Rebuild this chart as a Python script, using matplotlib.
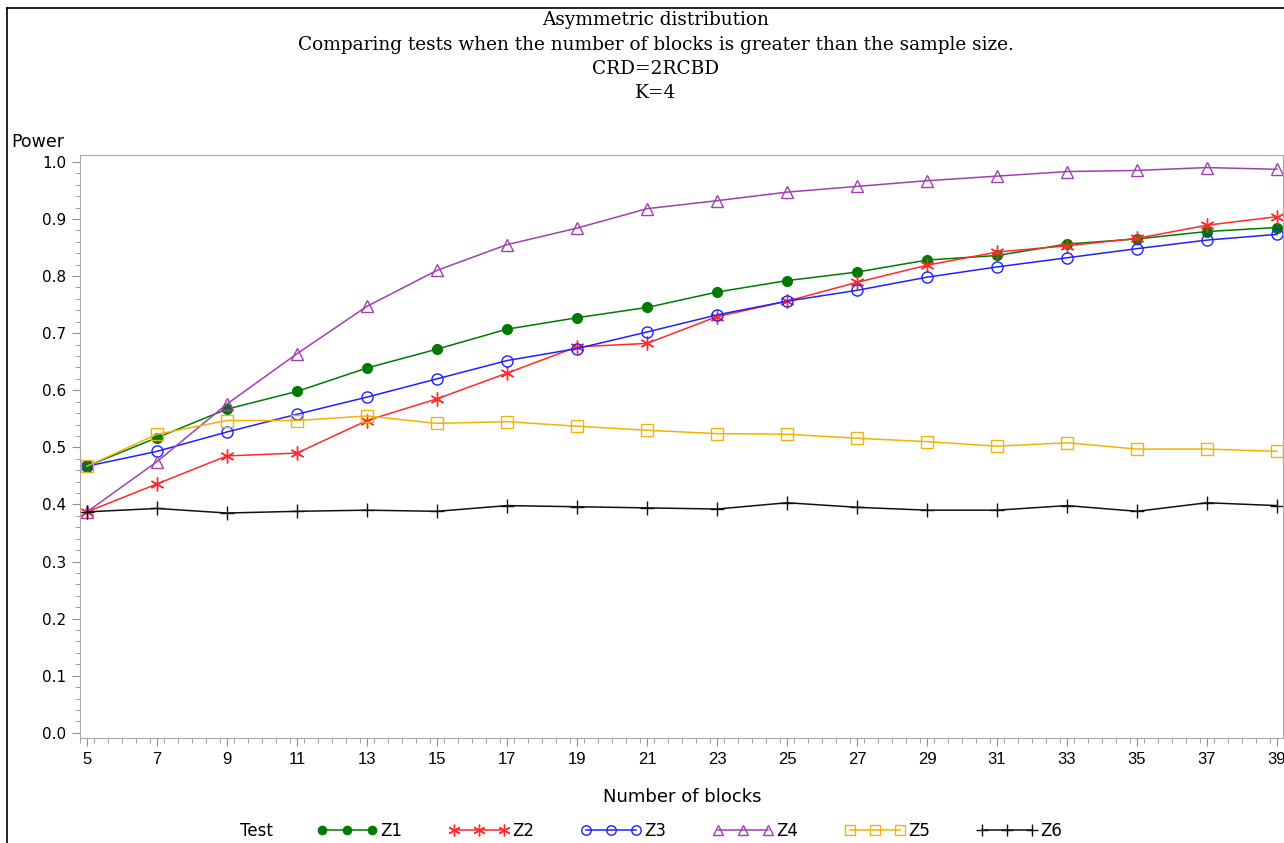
import matplotlib.pyplot as plt
from matplotlib.lines import Line2D
from matplotlib.ticker import MultipleLocator

blocks = [5, 7, 9, 11, 13, 15, 17, 19, 21, 23, 25, 27, 29, 31, 33, 35, 37, 39]

z1 = [0.467, 0.517, 0.567, 0.598, 0.639, 0.672, 0.707, 0.727, 0.745, 0.772,
      0.792, 0.807, 0.828, 0.836, 0.856, 0.865, 0.878, 0.885]
z2 = [0.387, 0.436, 0.485, 0.490, 0.547, 0.585, 0.630, 0.676, 0.682, 0.729,
      0.756, 0.789, 0.819, 0.842, 0.853, 0.866, 0.889, 0.904]
z3 = [0.467, 0.493, 0.527, 0.558, 0.588, 0.620, 0.652, 0.673, 0.702, 0.732,
      0.756, 0.775, 0.798, 0.816, 0.832, 0.848, 0.863, 0.873]
z4 = [0.387, 0.475, 0.576, 0.664, 0.747, 0.810, 0.855, 0.884, 0.918, 0.932,
      0.947, 0.957, 0.967, 0.975, 0.983, 0.985, 0.990, 0.987]
z5 = [0.467, 0.523, 0.547, 0.547, 0.555, 0.542, 0.545, 0.537, 0.530, 0.524,
      0.523, 0.516, 0.510, 0.502, 0.508, 0.497, 0.497, 0.493]
z6 = [0.387, 0.393, 0.385, 0.388, 0.390, 0.388, 0.398, 0.396, 0.394, 0.392,
      0.403, 0.395, 0.390, 0.390, 0.398, 0.388, 0.403, 0.398]

names = ['Z1', 'Z2', 'Z3', 'Z4', 'Z5', 'Z6']
series = [z1, z2, z3, z4, z5, z6]

styles = [
    dict(color='#007a00', marker='o', ms=7, mfc='#007a00'),
    dict(color='#ff2a2a', marker=(6, 2, 0), ms=10, mew=1.0),
    dict(color='#2020ff', marker='o', ms=8, mfc='none', mew=1.0),
    dict(color='#a040b0', marker='^', ms=8, mfc='none', mew=1.0),
    dict(color='#f2b400', marker='s', ms=8, mfc='none', mew=1.0),
    dict(color='#111111', marker='+', ms=10, mew=1.0),
]

sans = ['DejaVu Sans']
narrow = ['Liberation Sans', 'DejaVu Sans']
serif = ['DejaVu Serif', 'Liberation Serif']

fig = plt.figure(figsize=(12.84, 8.43), dpi=100)
ax = fig.add_axes([80 / 1284, 105 / 843, 1203 / 1284, 583 / 843])

handles = []
for name, vals, st in zip(names, series, styles):
    h, = ax.plot(blocks, vals, lw=1.1, label=name, **st)
    handles.append(h)

ax.set_xlim(4.8, 39.17)
ax.set_ylim(-0.009, 1.012)
ax.xaxis.set_minor_locator(MultipleLocator(0.4))
ax.yaxis.set_minor_locator(MultipleLocator(0.02))
ax.set_xticks(blocks)
ax.set_yticks([i / 10 for i in range(11)])
ax.set_yticklabels(['%.1f' % (i / 10) for i in range(11)])

for s in ax.spines.values():
    s.set_color('#a8a8a8')
ax.tick_params(which='major', length=6, color='#909090', pad=4)
ax.tick_params(which='minor', length=3.5, color='#909090')
for lab in ax.get_xticklabels():
    lab.set_family(narrow)
    lab.set_fontsize(12)
for lab in ax.get_yticklabels():
    lab.set_family(sans)
    lab.set_fontsize(11)

fig.text(682 / 1284, 1 - 797 / 843, 'Number of blocks', ha='center', va='center',
         fontsize=13, family=sans)
fig.text(11 / 1284, 1 - 142 / 843, 'Power', ha='left', va='center',
         fontsize=12.5, family=sans)

titles = ['Asymmetric distribution',
          'Comparing tests when the number of blocks is greater than the sample size.',
          'CRD=2RCBD',
          'K=4']
for i, t in enumerate(titles):
    fig.text(656 / 1284, 1 - (20 + 24.5 * i) / 843, t, ha='center', va='center',
             fontsize=13.3, family=serif)

fig.text(256 / 1284, 1 - 831 / 843, 'Test', ha='center', va='center',
         fontsize=12, family=sans)
leg = fig.legend(handles=handles, labels=names, loc='center left',
                 bbox_to_anchor=(309 / 1284, 1 - 831 / 843), ncol=6, frameon=False,
                 numpoints=3, handlelength=3.6, columnspacing=2.8, handletextpad=0.2,
                 borderpad=0, markerscale=0.85, prop={'family': sans, 'size': 12})

# outer frame (left and top edges visible in the source)
fig.add_artist(Line2D([7 / 1284, 7 / 1284], [0, 1 - 8 / 843], color='black', lw=1.2,
                      transform=fig.transFigure))
fig.add_artist(Line2D([7 / 1284, 1], [1 - 8 / 843, 1 - 8 / 843], color='black', lw=1.2,
                      transform=fig.transFigure))

fig.savefig('out.png', dpi=100)
